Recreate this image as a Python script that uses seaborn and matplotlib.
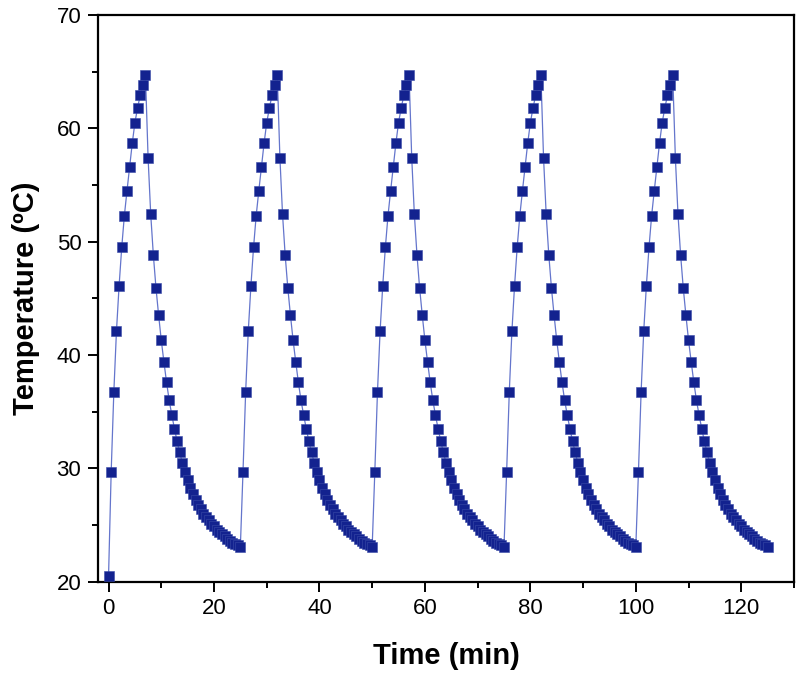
import numpy as np
import pandas as pd
import matplotlib
matplotlib.use("Agg")
import matplotlib.pyplot as plt
from matplotlib.ticker import MultipleLocator
import seaborn as sns

# Données (pas de 0.5 min, 5 cycles de 25 min)
start_temp = 20.5
heating = [29.7, 36.7, 42.1, 46.1, 49.5, 52.3, 54.5, 56.6, 58.7, 60.5,
           61.8, 62.9, 63.8, 64.7]
cooling = [57.4, 52.4, 48.8, 45.9, 43.5, 41.3, 39.4, 37.6, 36.0, 34.7,
           33.5, 32.4, 31.4, 30.5, 29.7, 29.0, 28.3, 27.7, 27.2, 26.8,
           26.4, 26.0, 25.7, 25.4, 25.1, 24.9, 24.6, 24.4, 24.2, 24.0,
           23.8, 23.6, 23.4, 23.3, 23.2, 23.1]
n_cycles = 5
step = 0.5

temps = [start_temp]
for _ in range(n_cycles):
    temps += heating + cooling
times = [i * step for i in range(len(temps))]
df = pd.DataFrame({"Time": times, "Temp": temps})

sns.set_theme(style="ticks")
plt.rcParams["font.family"] = ["Liberation Sans", "DejaVu Sans"]
plt.rcParams["text.color"] = "black"
plt.rcParams["axes.labelcolor"] = "black"

fig = plt.figure(figsize=(8, 6.79), dpi=100)
ax = fig.add_axes([0.1225, 0.1433, 0.87, 0.8346])

sns.lineplot(data=df, x="Time", y="Temp", ax=ax, color="#6475cc",
             linewidth=0.9, sort=False)
sns.scatterplot(data=df, x="Time", y="Temp", ax=ax, marker="s", s=60,
                color="#13228f", edgecolor="#3a4aa8", linewidth=0.4, zorder=3)

ax.set_xlim(-2, 130)
ax.set_ylim(20, 70)
ax.xaxis.set_major_locator(MultipleLocator(20))
ax.xaxis.set_minor_locator(MultipleLocator(10))
ax.yaxis.set_major_locator(MultipleLocator(10))
ax.yaxis.set_minor_locator(MultipleLocator(5))
ax.tick_params(which="major", direction="out", length=7, width=1.4,
               labelsize=16, colors="black", pad=5)
ax.tick_params(which="minor", direction="out", length=4, width=1.4,
               colors="black")
for sp in ax.spines.values():
    sp.set_linewidth(1.6)
    sp.set_color("black")

ax.set_xlabel("Time (min)", fontsize=21, fontweight="bold", labelpad=16)
ax.set_ylabel("Temperature (\u00baC)", fontsize=21, fontweight="bold", labelpad=12)

fig.savefig("out.png", dpi=100)
